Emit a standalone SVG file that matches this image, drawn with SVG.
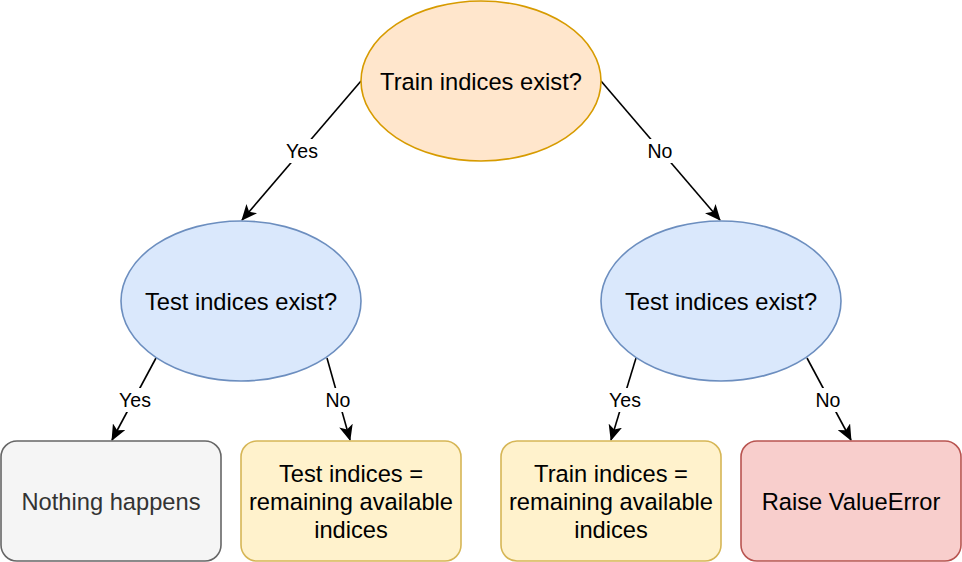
<svg xmlns="http://www.w3.org/2000/svg" width="962" height="562" viewBox="0 0 962 562">
<defs>
<marker id="arr" viewBox="0 0 16 14" refX="15" refY="7" markerWidth="16" markerHeight="14" markerUnits="userSpaceOnUse" orient="auto">
<path d="M0,0 L16,7 L0,14 L4,7 Z" fill="#000"/>
</marker>
</defs>
<style>
text{font-family:"Liberation Sans",Arial,Helvetica,sans-serif;text-anchor:middle;fill:#000}
.n{font-size:23.7px}
.l{font-size:19.5px}
.e{stroke-width:1.6}
.c{stroke:#000;stroke-width:1.6;fill:none;marker-end:url(#arr)}
.bg{fill:#fff}
</style>
<g id="connectors">
<line class="c" x1="361" y1="81" x2="242" y2="220"/>
<line class="c" x1="601" y1="81" x2="720" y2="220"/>
<line class="c" x1="156" y1="358" x2="112" y2="440"/>
<line class="c" x1="327" y1="358" x2="350" y2="440"/>
<line class="c" x1="636" y1="358" x2="611" y2="440"/>
<line class="c" x1="807" y1="358" x2="851" y2="440"/>
<rect class="bg" x="284" y="139" width="38" height="24"/>
<text class="l" x="302" y="158">Yes</text>
<rect class="bg" x="645" y="139" width="30" height="24"/>
<text class="l" x="660" y="158">No</text>
<rect class="bg" x="116" y="388" width="38" height="24"/>
<text class="l" x="135" y="407">Yes</text>
<rect class="bg" x="323" y="388" width="30" height="24"/>
<text class="l" x="338" y="407">No</text>
<rect class="bg" x="606" y="388" width="38" height="24"/>
<text class="l" x="625" y="407">Yes</text>
<rect class="bg" x="813" y="388" width="30" height="24"/>
<text class="l" x="828" y="407">No</text>
</g>
<g id="train-exist">
<ellipse class="e" cx="481" cy="81" rx="120" ry="80" fill="#ffe6cc" stroke="#d79b00"/>
<text class="n" x="481" y="89.5">Train indices exist?</text>
</g>
<g id="test-exist-left">
<ellipse class="e" cx="241" cy="301" rx="120" ry="80" fill="#dae8fc" stroke="#6c8ebf"/>
<text class="n" x="241" y="309.5">Test indices exist?</text>
</g>
<g id="test-exist-right">
<ellipse class="e" cx="721" cy="301" rx="120" ry="80" fill="#dae8fc" stroke="#6c8ebf"/>
<text class="n" x="721" y="309.5">Test indices exist?</text>
</g>
<g id="nothing">
<rect class="e" x="1" y="441" width="220" height="120" rx="16" fill="#f5f5f5" stroke="#666666"/>
<text class="n" x="111" y="509.5" style="fill:#333333">Nothing happens</text>
</g>
<g id="test-remaining">
<rect class="e" x="241" y="441" width="220" height="120" rx="16" fill="#fff2cc" stroke="#d6b656"/>
<text class="n" x="351" y="481.5">Test indices =</text>
<text class="n" x="351" y="509.5">remaining available</text>
<text class="n" x="351" y="537.5">indices</text>
</g>
<g id="train-remaining">
<rect class="e" x="501" y="441" width="220" height="120" rx="16" fill="#fff2cc" stroke="#d6b656"/>
<text class="n" x="611" y="481.5">Train indices =</text>
<text class="n" x="611" y="509.5">remaining available</text>
<text class="n" x="611" y="537.5">indices</text>
</g>
<g id="raise">
<rect class="e" x="741" y="441" width="220" height="120" rx="16" fill="#f8cecc" stroke="#b85450"/>
<text class="n" x="851" y="509.5">Raise ValueError</text>
</g>
</svg>
